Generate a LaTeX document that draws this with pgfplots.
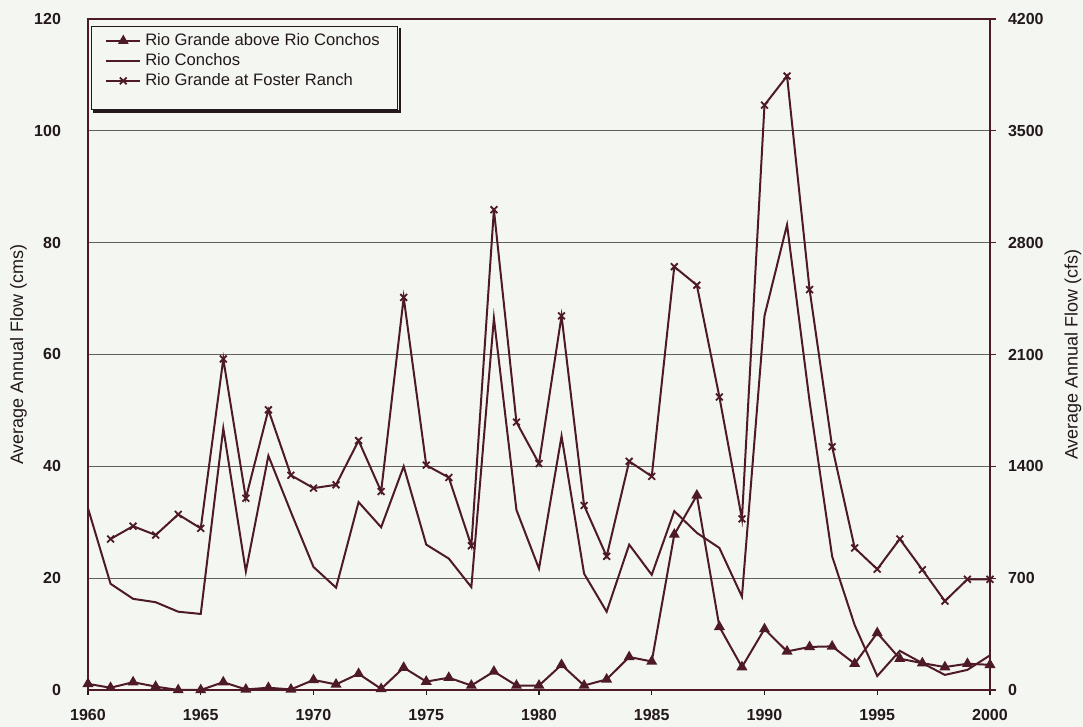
\documentclass[border=0pt]{standalone}
\usepackage{fontspec}
\setmainfont{Liberation Sans}
\usepackage{pgfplots}
\pgfplotsset{compat=1.18}
\definecolor{bg}{RGB}{244,246,241}
\definecolor{ln}{RGB}{78,26,38}
\definecolor{gr}{RGB}{100,95,95}
\definecolor{tx}{RGB}{35,25,28}

\pgfplotstableread{
year above conchos foster
1960 1.1 32.5 nan
1961 0.4 19.0 27.0
1962 1.4 16.3 29.3
1963 0.6 15.7 27.7
1964 0.0 14.0 31.4
1965 0.0 13.6 28.9
1966 1.4 46.8 59.2
1967 0.1 21.2 34.3
1968 0.4 41.9 50.1
1969 0.1 31.8 38.4
1970 1.8 22.0 36.1
1971 1.0 18.3 36.7
1972 2.9 33.6 44.6
1973 0.2 29.1 35.5
1974 4.0 40.0 70.2
1975 1.5 26.0 40.2
1976 2.2 23.5 38.0
1977 0.8 18.4 25.8
1978 3.3 66.5 85.9
1979 0.8 32.2 47.9
1980 0.8 21.7 40.5
1981 4.5 45.4 66.9
1982 0.8 20.8 33.0
1983 1.9 14.0 23.9
1984 5.9 26.0 40.9
1985 5.1 20.6 38.2
1986 27.8 32.0 75.7
1987 34.8 28.1 72.4
1988 11.3 25.4 52.4
1989 4.1 16.7 30.6
1990 10.9 66.9 104.6
1991 6.9 83.2 109.8
1992 7.7 51.6 71.6
1993 7.8 23.9 43.5
1994 4.7 11.6 25.4
1995 10.2 2.5 21.6
1996 5.6 7.0 27.0
1997 4.8 4.8 21.5
1998 4.1 2.7 15.9
1999 4.7 3.6 19.8
2000 4.5 6.2 19.8
}\flow

\begin{document}
\begin{tikzpicture}
\useasboundingbox (-44pt,-18.5pt) rectangle (497.5pt,345pt);
\fill[bg] (-44pt,-18.5pt) rectangle (497.5pt,345pt);
\begin{axis}[
  at={(0,0)}, anchor=south west,
  scale only axis, width=451pt, height=335.5pt,
  xmin=1960, xmax=2000, ymin=0, ymax=120,
  xtick={1960,1965,...,2000}, ytick={0,20,...,120},
  xtick pos=bottom, ytick pos=left,
  tick align=outside, major tick length=2.5pt,
  ytick style={draw=none},
  xtick style={draw=tx, line width=0.6pt},
  ymajorgrids, grid style={gr, line width=0.45pt},
  axis line style={draw=ln, line width=0.8pt},
  tick label style={font=\bfseries\fontsize{8}{9.6}\selectfont, text=tx,
    /pgf/number format/assume math mode=true, /pgf/number format/1000 sep={}},
  yticklabel style={xshift=-7.5pt},
  xticklabel style={yshift=-3.5pt},
  ylabel={Average Annual Flow (cms)},
  ylabel style={at={(axis description cs:-0.077,0.5)}, anchor=center, rotate=0,
    font=\fontsize{9}{10}\selectfont, text=tx},
  legend cell align=left,
  legend image post style={line width=0.9pt},
  legend style={name=leg, at={(axis description cs:0.003,0.99)}, anchor=north west,
    draw=tx, line width=0.6pt, fill=bg, text=tx,
    font=\fontsize{8.3}{9}\selectfont, inner xsep=7pt, inner ysep=1.5pt,
    row sep=-1.5pt},
]
\addplot[ln, line width=1pt, mark=triangle*, mark size=2.2pt,
  mark options={fill=ln, solid}] table[x=year, y=above] {\flow};
\addlegendentry{Rio Grande above Rio Conchos\hspace{7pt}}
\addplot[ln, line width=1pt, no marks] table[x=year, y=conchos] {\flow};
\addlegendentry{Rio Conchos}
\addplot[ln, line width=1pt, mark=x, mark size=2.4pt,
  mark options={line width=0.9pt}, unbounded coords=jump] table[x=year, y=foster] {\flow};
\addlegendentry{Rio Grande at Foster Ranch}
\addlegendimage{empty legend}
\addlegendentry{\rule{0pt}{3pt}}
\end{axis}
\draw[tx, line width=1.3pt] ([xshift=0.9pt,yshift=-1pt]leg.north east) -- ([xshift=0.9pt,yshift=-0.9pt]leg.south east) -- ([xshift=1pt,yshift=-0.9pt]leg.south west);
\begin{axis}[
  at={(0,0)}, anchor=south west,
  scale only axis, width=451pt, height=335.5pt,
  xmin=1960, xmax=2000, ymin=0, ymax=4200,
  axis y line*=right, axis x line=none,
  ytick={0,700,...,4200},
  tick align=outside, major tick length=3pt,
  ytick style={draw=ln, line width=0.6pt},
  axis line style={draw=ln, line width=0.8pt},
  tick label style={font=\bfseries\fontsize{8}{9.6}\selectfont, text=tx,
    /pgf/number format/assume math mode=true, /pgf/number format/1000 sep={}},
  yticklabel style={xshift=2.5pt},
  ylabel={Average Annual Flow (cfs)},
  ylabel style={at={(axis description cs:1.092,0.5)}, anchor=center,
    font=\fontsize{9}{10}\selectfont, text=tx},
]
\addplot[draw=none] coordinates {(1960,0)};
\end{axis}
\end{tikzpicture}
\end{document}
